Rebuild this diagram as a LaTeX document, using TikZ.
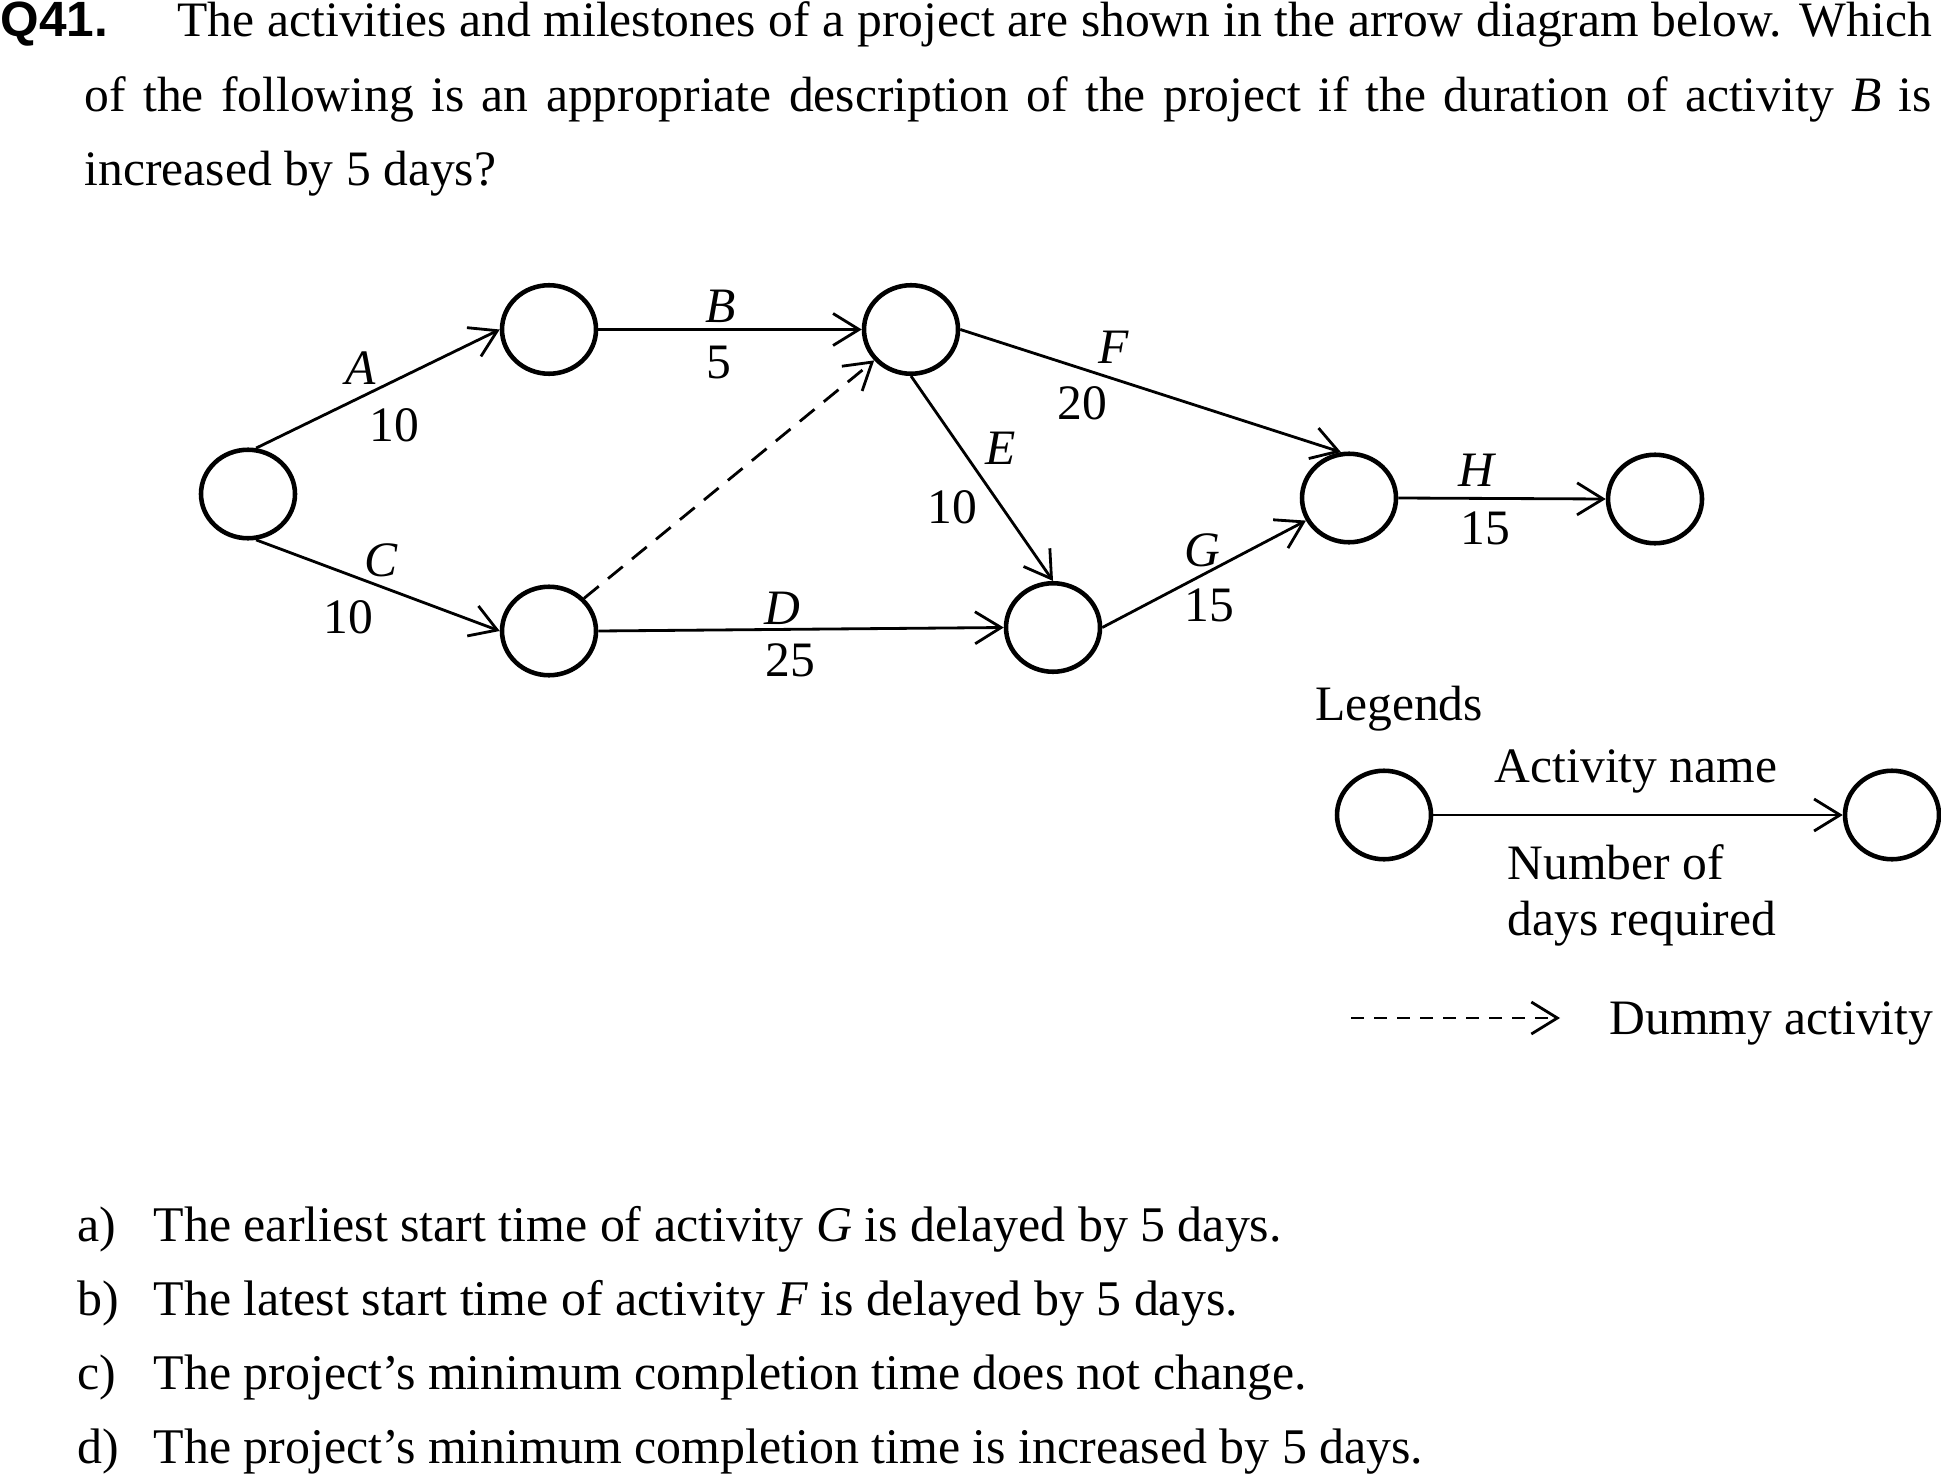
\documentclass[tikz,border=0pt]{standalone}
\usepackage{fontspec}
\setmainfont{Liberation Serif}
\newfontfamily\qfont{Liberation Sans}
\usetikzlibrary{arrows.meta, shapes.geometric, positioning}

\begin{document}
\begin{tikzpicture}[>={Straight Barb[length=2.6mm,width=3.2mm]},
    font=\fontsize{14.1pt}{16pt}\selectfont,
    event/.style={ellipse, draw, line width=1.3pt, minimum width=0.94cm, minimum height=0.885cm, inner sep=0pt},
    act/.style={->, line width=0.8pt},
    dummy/.style={act, dash pattern=on 1.9mm off 1.2mm},
    lbl/.style={inner sep=0pt}]
    % 0. Page frame
    \useasboundingbox (0,0) rectangle (19.41,14.77);

    % 1. Question text
    \node[anchor=base west, inner sep=0pt] (qnum) at (0,14.40) {\qfont\bfseries Q41.};
    \node[anchor=base west, inner sep=0pt] (qtext) at (0.84,14.40) {\parbox[t]{18.47cm}{\fontsize{14.1pt}{21.07pt}\selectfont
        \hyphenpenalty=10000 \tolerance=9999
        \hspace*{0.93cm}The activities and milestones of a project are shown in the arrow diagram below. Which\linebreak
        of the following is an appropriate description of the project if the duration of activity \textit{B} is\linebreak
        increased by 5 days?}};

    % 2. Events (circles)
    \node[event] (n1) at (2.48,9.83) {};
    \node[event] (n2) at (5.49,11.475) {};
    \node[event] (n3) at (9.11,11.475) {};
    \node[event] (n4) at (5.49,8.46) {};
    \node[event] (n5) at (10.53,8.495) {};
    \node[event] (n6) at (13.49,9.79) {};
    \node[event] (n7) at (16.55,9.78) {};

    % 3. Activities
    \draw[act] (n1.80) -- (n2.west);
    \draw[act] (n1.-80) -- (n4.west);
    \draw[act] (n2.east) -- (n3.west);
    \draw[act] (n4.east) -- (n5.west);
    \draw[dummy] (n4.43) -- (n3.220);
    \draw[act] (n3.south) -- (n5.north);
    \draw[act] (n3.east) -- (n6.100);
    \draw[act] (n5.east) -- (n6);
    \draw[act] (n6.east) -- (n7.west);

    % 4. Activity names and durations
    \node[lbl] (tA) at (3.61,11.09) {\textit{A}};
    \node[lbl] (dA) at (3.94,10.52) {10};
    \node[lbl] (tC) at (3.815,9.17) {\textit{C}};
    \node[lbl] (dC) at (3.48,8.60) {10};
    \node[lbl] (tB) at (7.21,11.71) {\textit{B}};
    \node[lbl] (dB) at (7.19,11.14) {5};
    \node[lbl] (tD) at (7.82,8.69) {\textit{D}};
    \node[lbl] (dD) at (7.90,8.17) {25};
    \node[lbl] (tE) at (10.01,10.29) {\textit{E}};
    \node[lbl] (dE) at (9.52,9.70) {10};
    \node[lbl] (tF) at (11.14,11.30) {\textit{F}};
    \node[lbl] (dF) at (10.82,10.74) {20};
    \node[lbl] (tG) at (12.02,9.27) {\textit{G}};
    \node[lbl] (dG) at (12.09,8.72) {15};
    \node[lbl] (tH) at (14.77,10.07) {\textit{H}};
    \node[lbl] (dH) at (14.85,9.49) {15};

    % 5. Legends
    \node[lbl, anchor=base] (leg) at (13.99,7.57) {Legends};
    \node[event] (l1) at (13.84,6.62) {};
    \node[event] (l2) at (18.92,6.62) {};
    \draw[act] (l1.east) -- (l2.west);
    \node[lbl, anchor=base] (lname) at (16.36,6.945) {Activity name};
    \node[lbl, anchor=west, align=left] (ldays) at (15.07,5.815) {Number of\\days required};
    \coordinate (ds) at (13.51,4.59);
    \coordinate (de) at (15.60,4.59);
    \draw[act, dash pattern=on 1.3mm off 1mm] (ds) -- (de);
    \node[lbl, anchor=base west] (ldummy) at (16.09,4.43) {Dummy activity};

    % 6. Options
    \foreach \k/\txt [count=\i from 0] in {a/{The earliest start time of activity \textit{G} is delayed by 5 days.},
        b/{The latest start time of activity \textit{F} is delayed by 5 days.},
        c/{The project’s minimum completion time does not change.},
        d/{The project’s minimum completion time is increased by 5 days.}} {
        \node[anchor=base west, inner sep=0pt, font=\fontsize{14.2pt}{16pt}\selectfont] (o\k) at (0.77,{2.36-0.743*\i}) {\k)};
        \node[anchor=base west, inner sep=0pt, font=\fontsize{14.2pt}{16pt}\selectfont] (t\k) at (1.53,{2.36-0.743*\i}) {\txt};
    }
\end{tikzpicture}
\end{document}
